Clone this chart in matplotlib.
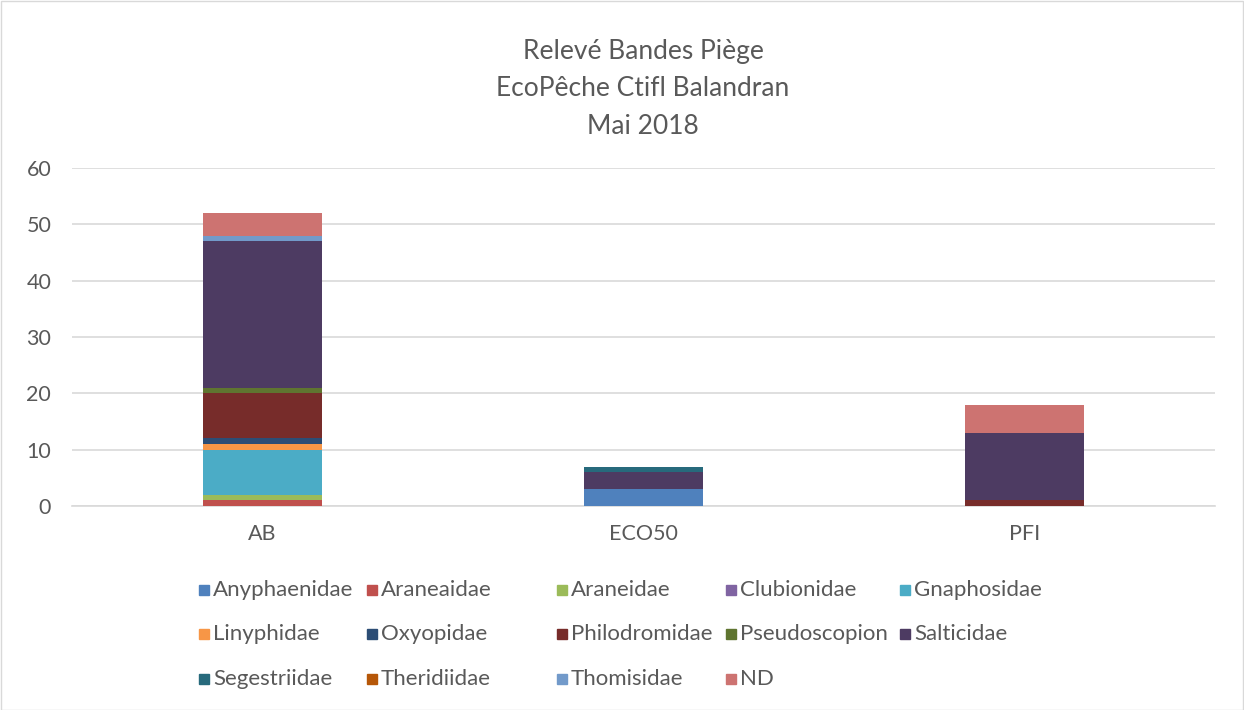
import matplotlib.pyplot as plt
from matplotlib.patches import Rectangle
import numpy as np

plt.rcParams['font.family'] = ['Lato', 'DejaVu Sans']

sites = ["AB", "ECO50", "PFI"]
families = ["Anyphaenidae", "Araneaidae", "Araneidae", "Clubionidae", "Gnaphosidae",
            "Linyphidae", "Oxyopidae", "Philodromidae", "Pseudoscopion", "Salticidae",
            "Segestriidae", "Theridiidae", "Thomisidae", "ND"]

anyphaenidae = [0, 3, 0]
araneaidae = [1, 0, 0]
araneidae = [1, 0, 0]
clubionidae = [0, 0, 0]
gnaphosidae = [8, 0, 0]
linyphidae = [1, 0, 0]
oxyopidae = [1, 0, 0]
philodromidae = [8, 0, 1]
pseudoscopion = [1, 0, 0]
salticidae = [26, 3, 12]
segestriidae = [0, 1, 0]
theridiidae = [0, 0, 0]
thomisidae = [1, 0, 0]
nd = [4, 0, 5]

series = [anyphaenidae, araneaidae, araneidae, clubionidae, gnaphosidae, linyphidae,
          oxyopidae, philodromidae, pseudoscopion, salticidae, segestriidae,
          theridiidae, thomisidae, nd]

colors = ["#4F81BD", "#C0504D", "#9BBB59", "#8064A2", "#4BACC6", "#F79646",
          "#2C4D75", "#772C2A", "#5F7530", "#4D3B62", "#276A7C", "#B65708",
          "#729ACA", "#CD7371"]

txt = "#595959"

fig = plt.figure(figsize=(12.44, 7.10), dpi=100)
ax = fig.add_axes([72 / 1244, 1 - 506 / 710, (1215 - 72) / 1244, (506 - 168) / 710])

x = np.arange(len(sites))
bottom = np.zeros(len(sites))
for name, vals, c in zip(families, series, colors):
    ax.bar(x, vals, 0.313, bottom=bottom, color=c, label=name, zorder=3)
    bottom += np.array(vals)

ax.set_xlim(-0.5, 2.5)
ax.set_ylim(0, 60)
ax.set_yticks(range(0, 61, 10))
ax.set_xticks(x)
ax.set_xticklabels(sites)
ax.grid(axis="y", color="#D9D9D9", linewidth=1.2, zorder=0)
for s in ["top", "right", "left"]:
    ax.spines[s].set_visible(False)
ax.spines["bottom"].set_color("#D9D9D9")
ax.spines["bottom"].set_linewidth(1.2)
ax.tick_params(length=0, labelsize=15.5, labelcolor=txt)
ax.tick_params(axis="y", pad=15)
ax.tick_params(axis="x", pad=13)

tx = 643 / 1244
fig.text(tx, 1 - 52 / 710, "Relevé Bandes Piège", ha="center", va="center", fontsize=19, color=txt)
fig.text(tx, 1 - 89 / 710, "EcoPêche Ctifl Balandran", ha="center", va="center", fontsize=19, color=txt)
fig.text(tx, 1 - 126 / 710, "Mai 2018", ha="center", va="center", fontsize=19, color=txt)

# legend laid out like the Excel one
col_x = [199, 367, 557, 726, 900]
row_y = [590, 634, 679]
for i, (name, c) in enumerate(zip(families, colors)):
    cx = col_x[i % 5]
    cy = row_y[i // 5]
    fig.patches.append(Rectangle((cx / 1244, 1 - (cy + 5) / 710), 10 / 1244, 10 / 710,
                                 transform=fig.transFigure, color=c))
    fig.text((cx + 14) / 1244, 1 - cy / 710, name, ha="left", va="center", fontsize=16, color=txt)

fig.patches.append(Rectangle((0.5 / 1244, 0.5 / 710), 1 - 1.5 / 1244, 1 - 1.5 / 710,
                             transform=fig.transFigure, fill=False, edgecolor="#D9D9D9", linewidth=1))

fig.savefig("out.png", dpi=100, facecolor="white")
